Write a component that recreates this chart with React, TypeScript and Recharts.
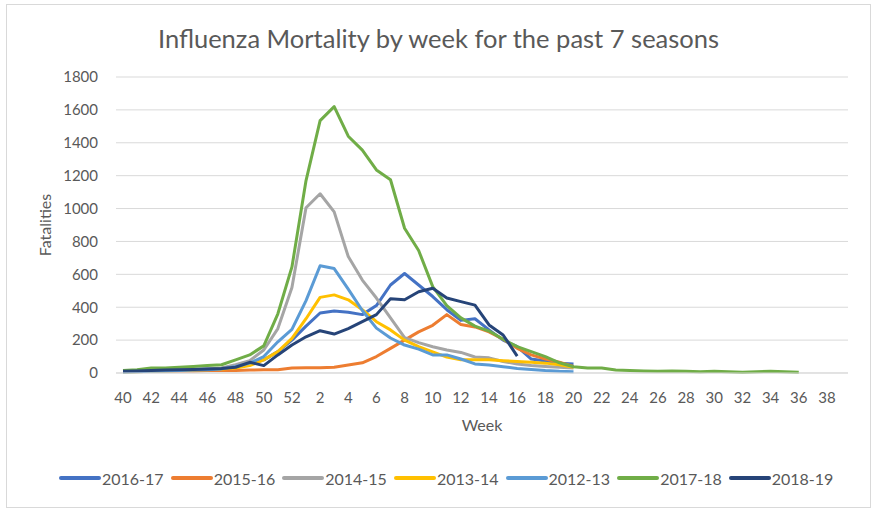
import React from 'react';
import { LineChart, Line, XAxis, YAxis, CartesianGrid, Legend } from 'recharts';

const weeks: string[] = [
  '40','41','42','43','44','45','46','47','48','49','50','51','52',
  '1','2','3','4','5','6','7','8','9','10','11','12','13','14','15','16','17','18','19','20',
  '21','22','23','24','25','26','27','28','29','30','31','32','33','34','35','36','37','38','39',
];

const s2016_17: (number | null)[] = [
  10,12,15,18,20,22,25,28,35,55,80,130,200,
  285,365,377,370,355,410,535,605,535,465,385,320,330,262,200,160,85,73,60,55,
];
const s2015_16: (number | null)[] = [
  10,10,12,12,12,12,15,15,15,18,20,20,30,
  32,32,35,48,62,100,150,200,250,290,355,295,280,250,205,150,110,85,65,40,
];
const s2014_15: (number | null)[] = [
  8,10,12,15,18,20,25,30,50,75,140,270,520,
  1005,1090,980,708,565,456,335,215,185,160,140,125,97,92,70,55,45,40,35,30,
];
const s2013_14: (number | null)[] = [
  5,8,10,12,15,18,20,25,30,45,80,130,210,
  330,460,475,445,385,312,262,200,160,128,97,80,80,80,75,70,65,60,50,35,
];
const s2012_13: (number | null)[] = [
  5,8,10,12,15,18,20,25,40,60,100,190,265,
  440,652,635,510,380,273,213,170,145,110,110,85,55,48,38,28,22,15,10,8,
];
const s2017_18: (number | null)[] = [
  15,20,30,30,35,40,45,50,80,110,165,360,645,
  1170,1535,1620,1440,1355,1235,1175,880,745,525,410,335,285,255,205,160,130,100,62,38,
  30,30,18,15,12,10,12,10,8,10,8,5,8,10,8,5,
];
const s2018_19: (number | null)[] = [
  10,12,15,18,20,22,25,28,35,65,45,110,170,
  220,257,237,270,312,355,452,445,494,515,456,434,413,292,231,103,
];

const yTicks: number[] = [0, 200, 400, 600, 800, 1000, 1200, 1400, 1600, 1800];

const seriesList = [
  { key: '2016-17', values: s2016_17, color: '#4472C4' },
  { key: '2015-16', values: s2015_16, color: '#ED7D31' },
  { key: '2014-15', values: s2014_15, color: '#A5A5A5' },
  { key: '2013-14', values: s2013_14, color: '#FFC000' },
  { key: '2012-13', values: s2012_13, color: '#5B9BD5' },
  { key: '2017-18', values: s2017_18, color: '#70AD47' },
  { key: '2018-19', values: s2018_19, color: '#264478' },
];

const data = weeks.map((w, i) => {
  const row: Record<string, string | number | null> = { week: w };
  seriesList.forEach((s) => {
    const v = s.values[i];
    row[s.key] = v === undefined ? null : v;
  });
  return row;
});

const FONT = 'Lato, "Open Sans", sans-serif';
const TEXT = '#595959';

const renderLegend = () => {
  return (
    <div style={{ display: 'flex', alignItems: 'center', height: 24, paddingLeft: 59, fontFamily: FONT, fontSize: 16, color: TEXT }}>
      {seriesList.map((s) => (
        <div key={s.key} style={{ display: 'flex', alignItems: 'center', marginRight: 7 }}>
          <svg width={42} height={8} style={{ marginRight: 1 }}>
            <line x1={2} y1={4} x2={40} y2={4} stroke={s.color} strokeWidth={4} strokeLinecap="round" />
          </svg>
          <span>{s.key}</span>
        </div>
      ))}
    </div>
  );
};

export default function App() {
  return (
    <div style={{ position: 'absolute', left: 0, top: 0, width: 893, height: 515, background: '#fff', fontFamily: FONT }}>
      <div style={{ position: 'absolute', left: 6, top: 4, width: 865, height: 504, boxSizing: 'border-box', border: '1px solid #d9d9d9' }} />
      <div style={{ position: 'absolute', left: 6, top: 23, width: 865, textAlign: 'center', fontSize: 25.5, lineHeight: '31px', color: TEXT, fontFamily: FONT }}>
        Influenza Mortality by week for the past 7 seasons
      </div>
      <div style={{ position: 'absolute', left: 0, top: 0 }}>
        <LineChart width={893} height={515} data={data} margin={{ top: 77, right: 45, bottom: 112, left: 0 }}>
          <CartesianGrid vertical={false} stroke="#d9d9d9" strokeWidth={1} />
          <XAxis
            dataKey="week"
            interval={1}
            tickSize={0}
            tickMargin={19}
            height={30}
            padding={{ left: 7, right: 7 }}
            axisLine={{ stroke: '#d9d9d9' }}
            tickLine={false}
            tick={{ fill: TEXT, fontSize: 15, fontFamily: FONT }}
            label={{ value: 'Week', position: 'center', dy: 37, fill: TEXT, fontSize: 16, fontFamily: FONT }}
          />
          <YAxis
            width={116}
            domain={[0, 1800]}
            ticks={yTicks}
            tickSize={0}
            tickMargin={18}
            axisLine={false}
            tickLine={false}
            tick={{ fill: TEXT, fontSize: 15, fontFamily: FONT }}
            label={{ value: 'Fatalities', angle: -90, position: 'center', dx: -13, fill: TEXT, fontSize: 16, fontFamily: FONT }}
          />
          {seriesList.map((s) => (
            <Line
              key={s.key}
              type="linear"
              dataKey={s.key}
              name={s.key}
              stroke={s.color}
              strokeWidth={3}
              strokeLinejoin="round"
              dot={false}
              activeDot={false}
              isAnimationActive={false}
            />
          ))}
          <Legend
            layout="horizontal"
            verticalAlign="middle"
            align="center"
            content={renderLegend}
            wrapperStyle={{ top: 466, left: 0, width: 893 }}
          />
        </LineChart>
      </div>
    </div>
  );
}
